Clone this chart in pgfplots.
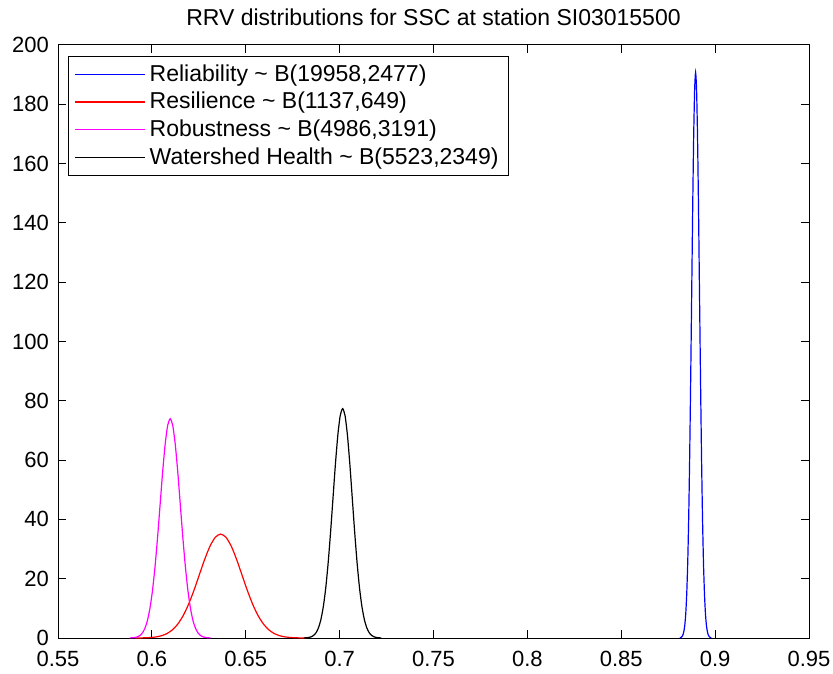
\documentclass[border=0pt]{standalone}
\usepackage{fontspec}
\setmainfont{Liberation Sans}
\usepackage{pgfplots}
\pgfplotsset{compat=1.18}
\usepackage{pgfplotstable}
\definecolor{mblue}{rgb}{0,0,1}
\definecolor{mred}{rgb}{1,0,0}
\definecolor{mmag}{rgb}{1,0,1}

\pgfplotstableread{
x y
0.88123 0.06
0.88176 0.17
0.88228 0.42
0.88280 0.97
0.88332 2.12
0.88385 4.35
0.88437 8.38
0.88489 15.17
0.88542 25.81
0.88594 41.24
0.88646 61.91
0.88698 87.31
0.88751 115.67
0.88803 143.95
0.88855 168.29
0.88908 184.83
0.88960 190.70
0.89012 184.83
0.89065 168.29
0.89117 143.95
0.89169 115.67
0.89222 87.31
0.89274 61.91
0.89326 41.24
0.89378 25.81
0.89431 15.17
0.89483 8.38
0.89535 4.35
0.89588 2.12
0.89640 0.97
0.89692 0.42
0.89745 0.17
0.89797 0.06
}\reliab

\pgfplotstableread{
x y
0.59111 0.01
0.59395 0.03
0.59680 0.08
0.59964 0.18
0.60249 0.39
0.60533 0.80
0.60818 1.54
0.61102 2.79
0.61386 4.75
0.61671 7.58
0.61955 11.38
0.62240 16.05
0.62524 21.26
0.62809 26.46
0.63093 30.94
0.63378 33.98
0.63662 35.06
0.63946 33.98
0.64231 30.94
0.64515 26.46
0.64800 21.26
0.65084 16.05
0.65369 11.38
0.65653 7.58
0.65938 4.75
0.66222 2.79
0.66507 1.54
0.66791 0.80
0.67075 0.39
0.67360 0.18
0.67644 0.08
0.67929 0.03
0.68213 0.01
}\resil

\pgfplotstableread{
x y
0.58818 0.03
0.58953 0.07
0.59088 0.16
0.59223 0.38
0.59358 0.82
0.59493 1.69
0.59627 3.25
0.59762 5.88
0.59897 10.01
0.60032 16.00
0.60167 24.01
0.60302 33.86
0.60437 44.86
0.60571 55.83
0.60706 65.27
0.60841 71.68
0.60976 73.96
0.61111 71.68
0.61246 65.27
0.61381 55.83
0.61515 44.86
0.61650 33.86
0.61785 24.01
0.61920 16.00
0.62055 10.01
0.62190 5.88
0.62325 3.25
0.62459 1.69
0.62594 0.82
0.62729 0.38
0.62864 0.16
0.62999 0.07
0.63134 0.03
}\robust

\pgfplotstableread{
x y
0.68097 0.03
0.68226 0.07
0.68355 0.17
0.68484 0.39
0.68613 0.86
0.68742 1.76
0.68871 3.40
0.69000 6.16
0.69129 10.47
0.69258 16.73
0.69386 25.12
0.69515 35.42
0.69644 46.93
0.69773 58.40
0.69902 68.28
0.70031 74.99
0.70160 77.37
0.70289 74.99
0.70418 68.28
0.70547 58.40
0.70676 46.93
0.70805 35.42
0.70934 25.12
0.71062 16.73
0.71191 10.47
0.71320 6.16
0.71449 3.40
0.71578 1.76
0.71707 0.86
0.71836 0.39
0.71965 0.17
0.72094 0.07
0.72223 0.03
}\watershed

\begin{document}
\begin{tikzpicture}
\begin{axis}[
  name=ax,
  scale only axis,
  width=375.5pt, height=296.5pt,
  xmin=0.55, xmax=0.95, ymin=0, ymax=200,
  xtick={0.55,0.6,0.65,0.7,0.75,0.8,0.85,0.9,0.95},
  ytick={0,20,...,200},
  xtick pos=both, ytick pos=both,
  tick align=inside,
  major tick length=4pt,
  axis line style={line width=0.5pt},
  every tick/.style={black, line width=0.5pt},
  /pgf/number format/assume math mode=true,
  x tick label style={font=\fontsize{11}{13}\selectfont, yshift=-3pt, /pgf/number format/fixed, /pgf/number format/precision=2},
  y tick label style={font=\fontsize{11}{13}\selectfont},
  yticklabel style={xshift=-1pt},
  title={RRV distributions for SSC at station SI03015500},
  title style={font=\fontsize{11.5}{13}\selectfont, yshift=0pt},
  legend style={at={(0,1)}, anchor=north west, xshift=5pt, yshift=-5.5pt,
    font=\fontsize{11.5}{15}\selectfont, draw=black, line width=0.5pt,
    inner xsep=3pt, inner ysep=2pt, row sep=0pt},
  legend cell align=left,
  legend image code/.code={\draw[#1, line width=0.6pt] (3.5pt,0pt) -- (38.5pt,0pt);},
  every axis plot/.append style={line width=0.6pt},
]
\addplot[mblue, no marks, smooth, tension=0.4] table {\reliab};
\addlegendentry{Reliability \textasciitilde{} B(19958,2477)}
\addplot[mred, no marks, smooth, tension=0.4] table {\resil};
\addlegendentry{Resilience \textasciitilde{} B(1137,649)}
\addplot[mmag, no marks, smooth, tension=0.4] table {\robust};
\addlegendentry{Robustness \textasciitilde{} B(4986,3191)}
\addplot[black, no marks, smooth, tension=0.4] table {\watershed};
\addlegendentry{Watershed Health \textasciitilde{} B(5523,2349)}
\end{axis}
\pgfresetboundingbox
\path ([xshift=-29pt,yshift=-17.5pt]ax.south west) rectangle ([xshift=12pt,yshift=22.5pt]ax.north east);
\end{tikzpicture}
\end{document}
